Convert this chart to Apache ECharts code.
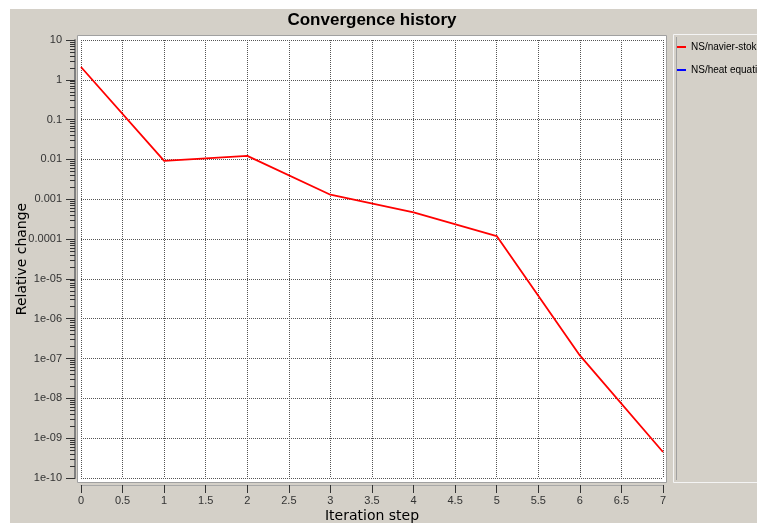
<!DOCTYPE html>
<html>
<head>
<meta charset="utf-8">
<title>Convergence history</title>
<script src="https://cdn.jsdelivr.net/npm/echarts@6/dist/echarts.min.js"></script>
<style>
  html, body { margin: 0; padding: 0; background: #ffffff; }
  #chart { width: 757px; height: 525px; }
</style>
</head>
<body>
<div id="chart"></div>
<script>
// Iteration steps and relative change per step
var steps = [0, 1, 2, 3, 4, 5, 6, 7];
var navierStokes = [2.1, 0.0092, 0.0123, 0.0013, 0.00047, 0.000119, 1.2e-7, 4.5e-10];
var heatEquation = [];
var seriesNames = ['NS/navier-stokes', 'NS/heat equation'];

// Decade labels of the log axis, from 1e-10 up to 10
var yTickLabels = ['1e-10', '1e-09', '1e-08', '1e-07', '1e-06', '1e-05',
                   '0.0001', '0.001', '0.01', '0.1', '1', '10'];
var yMinExp = -10, yMaxExp = 1;

// Minor tick positions: 2..9 times each decade
var minorTicks = [];
for (var e = yMinExp; e < yMaxExp; e++) {
  for (var m = 2; m <= 9; m++) minorTicks.push(m * Math.pow(10, e));
}

var chart = echarts.init(document.getElementById('chart'));

var labelFont = { fontFamily: 'Liberation Sans', fontSize: 11, color: '#333333' };

chart.setOption({
  backgroundColor: '#ffffff',
  animation: false,
  title: {
    text: 'Convergence history',
    left: 372, top: 12, padding: 0, textAlign: 'center',
    textStyle: { fontFamily: 'Liberation Sans', fontWeight: 'bold', fontSize: 17, color: '#000000' }
  },
  graphic: [
    { type: 'rect', z: -10, shape: { x: 10, y: 9, width: 760, height: 514 },
      style: { fill: '#d4d0c8' } },
    { type: 'rect', z: -9, shape: { x: 77.5, y: 35.5, width: 589, height: 447 },
      style: { fill: '#ffffff', stroke: '#a0a0a0', lineWidth: 1 } },
    { type: 'rect', z: -9, shape: { x: 673.5, y: 34.5, width: 100, height: 448 },
      style: { fill: '#d4d0c8', stroke: '#f4f4f4', lineWidth: 1 } },
    { type: 'line', z: -8, shape: { x1: 676.5, y1: 37, x2: 676.5, y2: 480 },
      style: { stroke: '#a0a0a0', lineWidth: 1 } }
  ],
  legend: {
    orient: 'vertical',
    left: 677, top: 42, padding: 0,
    itemWidth: 9, itemHeight: 2, itemGap: 13,
    icon: 'rect',
    textStyle: { fontFamily: 'Liberation Sans', fontSize: 10, color: '#000000' },
    data: seriesNames
  },
  grid: { left: 81, right: 94, top: 40, bottom: 47, containLabel: false, outerBoundsMode: 'none' },
  xAxis: {
    type: 'value',
    min: 0, max: 7, interval: 0.5,
    offset: 7,
    name: 'Iteration step',
    nameLocation: 'middle', nameGap: 24, nameMoveOverlap: false,
    nameTextStyle: { fontFamily: 'DejaVu Sans', fontSize: 14, color: '#000000' },
    axisLine: { show: true, onZero: false, lineStyle: { color: '#a8a8a8', width: 1 } },
    axisTick: { show: true, length: 8, lineStyle: { color: '#333333' } },
    axisLabel: Object.assign({ margin: 10 }, labelFont),
    splitLine: { show: true, lineStyle: { color: '#555555', type: 'dotted', width: 1 } }
  },
  yAxis: [
    {
      type: 'log',
      logBase: 10,
      min: Math.pow(10, yMinExp), max: Math.pow(10, yMaxExp), interval: 1,
      offset: 6,
      name: 'Relative change',
      nameLocation: 'middle', nameGap: 46, nameRotate: 90, nameMoveOverlap: false,
      nameTextStyle: { fontFamily: 'DejaVu Sans', fontSize: 14, color: '#000000' },
      axisLine: { show: true, onZero: false, lineStyle: { color: '#808080', width: 2 } },
      axisTick: { show: true, length: 9, lineStyle: { color: '#333333' } },
      axisLabel: Object.assign({
        margin: 13,
        formatter: function (v) {
          var idx = Math.round(Math.log10(v)) - yMinExp;
          return yTickLabels[idx] !== undefined ? yTickLabels[idx] : '';
        }
      }, labelFont),
      splitLine: { show: true, lineStyle: { color: '#555555', type: 'dotted', width: 1 } }
    },
    {
      type: 'log',
      logBase: 10,
      min: Math.pow(10, yMinExp), max: Math.pow(10, yMaxExp),
      position: 'left',
      offset: 6,
      axisLine: { show: false, onZero: false },
      axisTick: { show: true, length: 5, customValues: minorTicks, lineStyle: { color: '#333333' } },
      axisLabel: { show: false },
      splitLine: { show: false }
    }
  ],
  series: [
    {
      name: seriesNames[0],
      type: 'line',
      yAxisIndex: 0,
      data: steps.map(function (s, i) { return [s, navierStokes[i]]; }),
      showSymbol: false,
      symbol: 'none',
      color: '#ff0000',
      lineStyle: { color: '#ff0000', width: 1.8 }
    },
    {
      name: seriesNames[1],
      type: 'line',
      yAxisIndex: 0,
      data: heatEquation,
      symbol: 'none',
      color: '#0000ff',
      lineStyle: { color: '#0000ff', width: 1.8 }
    }
  ]
});
</script>
</body>
</html>
